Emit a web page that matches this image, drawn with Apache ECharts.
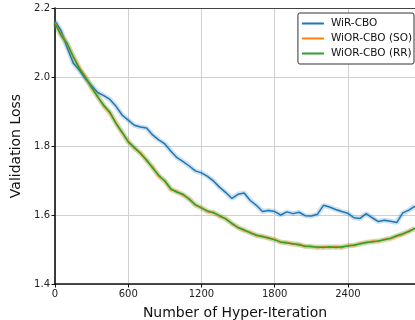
<!DOCTYPE html>
<html>
<head>
<meta charset="utf-8">
<script src="https://cdn.jsdelivr.net/npm/echarts@6/dist/echarts.min.js"></script>
<style>
  html, body { margin: 0; padding: 0; background: #fff; }
  #chart { width: 415px; height: 320px; }
</style>
</head>
<body>
<div id="chart"></div>
<script>
// hyper-iteration steps (every 50)
const iterations = [];
for (let i = 0; i <= 59; i++) iterations.push(i * 50);

const wirCbo = [
  2.162, 2.134, 2.085, 2.040, 2.020, 1.995, 1.975, 1.955, 1.946, 1.935,
  1.915, 1.890, 1.875, 1.860, 1.855, 1.852, 1.832, 1.818, 1.806, 1.785,
  1.766, 1.755, 1.742, 1.728, 1.722, 1.712, 1.698, 1.680, 1.665, 1.648,
  1.660, 1.664, 1.642, 1.628, 1.610, 1.613, 1.610, 1.600, 1.609, 1.604,
  1.608, 1.598, 1.597, 1.602, 1.628, 1.623, 1.616, 1.610, 1.605, 1.592,
  1.590, 1.604, 1.592, 1.581, 1.585, 1.582, 1.578, 1.606, 1.614, 1.626
];

const wiorSO = [
  2.157, 2.124, 2.095, 2.060, 2.027, 2.001, 1.968, 1.944, 1.915, 1.895,
  1.868, 1.838, 1.814, 1.793, 1.781, 1.757, 1.740, 1.712, 1.700, 1.673,
  1.668, 1.657, 1.648, 1.628, 1.622, 1.609, 1.608, 1.595, 1.590, 1.574,
  1.565, 1.554, 1.550, 1.540, 1.539, 1.532, 1.530, 1.520, 1.521, 1.515,
  1.516, 1.508, 1.510, 1.505, 1.508, 1.506, 1.509, 1.505, 1.512, 1.511,
  1.518, 1.519, 1.525, 1.523, 1.530, 1.531, 1.538, 1.543, 1.554, 1.560
];

const wiorRR = [
  2.155, 2.120, 2.097, 2.058, 2.024, 1.998, 1.970, 1.942, 1.918, 1.898,
  1.865, 1.840, 1.812, 1.796, 1.778, 1.760, 1.736, 1.715, 1.698, 1.676,
  1.666, 1.660, 1.645, 1.630, 1.620, 1.612, 1.606, 1.598, 1.588, 1.576,
  1.563, 1.557, 1.548, 1.542, 1.537, 1.534, 1.528, 1.522, 1.519, 1.517,
  1.513, 1.510, 1.508, 1.507, 1.506, 1.508, 1.506, 1.508, 1.510, 1.513,
  1.516, 1.521, 1.522, 1.525, 1.528, 1.533, 1.540, 1.546, 1.552, 1.562
];

const seriesDefs = [
  { name: 'WiR-CBO', data: wirCbo, color: '#1f77b4' },
  { name: 'WiOR-CBO (SO)', data: wiorSO, color: '#ff7f0e' },
  { name: 'WiOR-CBO (RR)', data: wiorRR, color: '#2ca02c' },
];

const toPairs = (arr) => arr.map((v, i) => [iterations[i], v]);

const font = 'DejaVu Sans';
const chart = echarts.init(document.getElementById('chart'));

const series = [];
seriesDefs.forEach((s) => {
  // faint band underneath
  series.push({
    name: s.name + ' band',
    type: 'line',
    data: toPairs(s.data),
    showSymbol: false,
    silent: true,
    lineStyle: { color: s.color, width: 5, opacity: 0.22 },
    z: 2,
  });
  series.push({
    name: s.name,
    type: 'line',
    data: toPairs(s.data),
    showSymbol: false,
    itemStyle: { color: s.color },
    lineStyle: { color: s.color, width: 1.5 },
    z: 3,
  });
});

const option = {
  animation: false,
  backgroundColor: '#fff',
  textStyle: { fontFamily: font },
  grid: { left: 55, right: 0, top: 8, bottom: 36, outerBoundsMode: 'none' },
  legend: {
    data: seriesDefs.map((s) => s.name),
    orient: 'vertical',
    right: 1,
    top: 13,
    itemWidth: 22,
    itemHeight: 2,
    itemGap: 4,
    icon: 'rect',
    padding: [5, 2, 5, 4],
    borderColor: '#333',
    borderWidth: 1,
    borderRadius: 2,
    backgroundColor: '#fff',
    textStyle: { fontFamily: font, fontSize: 10.5, color: '#111', padding: [0, 0, 0, 2] },
  },
  xAxis: [
    {
      type: 'value',
      min: 0,
      max: 2950,
      interval: 600,
      name: 'Number of Hyper-Iteration',
      nameLocation: 'middle',
      nameGap: 22,
      nameTextStyle: { fontFamily: font, fontSize: 14, color: '#111' },
      axisLine: { lineStyle: { color: '#111', width: 1.6 } },
      axisTick: { show: true, length: 3.5, inside: false, lineStyle: { color: '#111' } },
      axisLabel: {
        fontFamily: font,
        fontSize: 10,
        color: '#222',
        margin: 5,
        showMaxLabel: false,
        formatter: (v) => String(v),
      },
      splitLine: { show: true, lineStyle: { color: '#d0d0d0', width: 1 } },
    },
    {
      type: 'value',
      position: 'top',
      min: 0,
      max: 2950,
      axisLine: { show: true, lineStyle: { color: '#444', width: 1 } },
      axisTick: { show: false },
      axisLabel: { show: false },
      splitLine: { show: false },
    },
  ],
  yAxis: {
    type: 'value',
    min: 1.4,
    max: 2.2,
    interval: 0.2,
    name: 'Validation Loss',
    nameLocation: 'middle',
    nameGap: 28,
    nameTextStyle: { fontFamily: font, fontSize: 14, color: '#111' },
    axisLine: { show: true, lineStyle: { color: '#111', width: 1.6 } },
    axisTick: { show: true, length: 3.5, lineStyle: { color: '#111' } },
    axisLabel: {
      fontFamily: font,
      fontSize: 10,
      color: '#222',
      margin: 5,
      formatter: (v) => v.toFixed(1),
    },
    splitLine: { show: true, lineStyle: { color: '#d0d0d0', width: 1 } },
  },
  series: series,
};

chart.setOption(option);
</script>
</body>
</html>
